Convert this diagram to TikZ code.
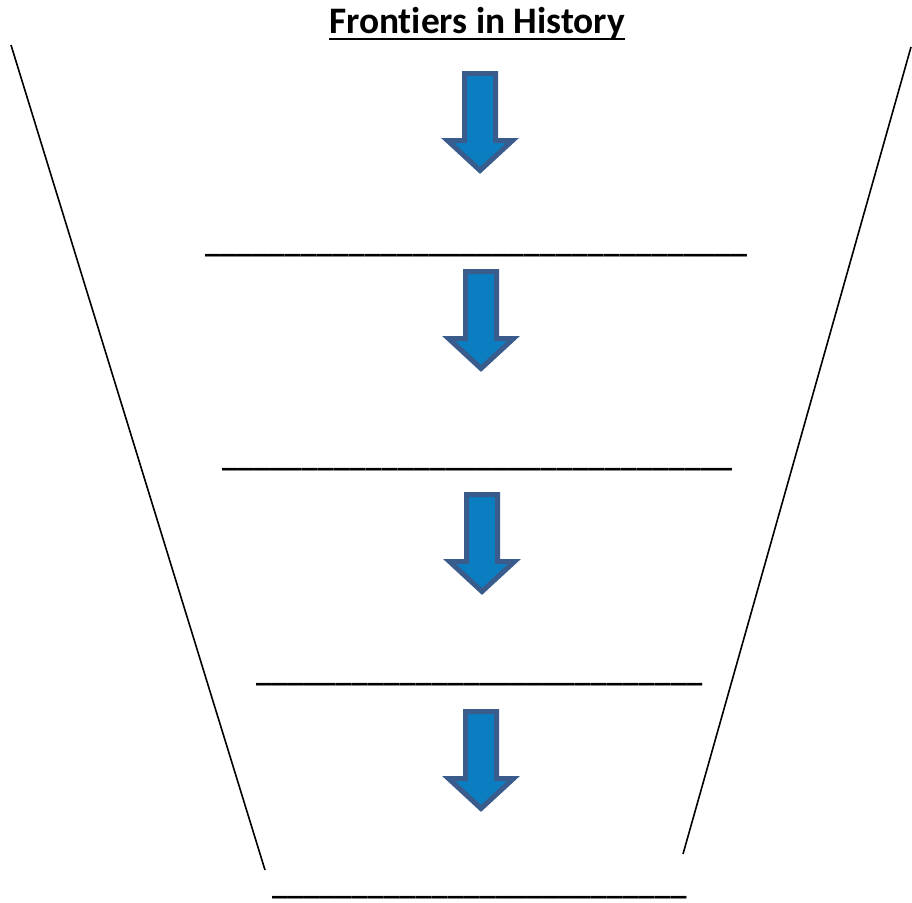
\documentclass[tikz,border=0pt]{standalone}
\usepackage{fontspec}
\setmainfont{Carlito}[Ligatures={NoCommon}]
\definecolor{arrowfill}{RGB}{10,126,192}
\definecolor{arrowedge}{RGB}{58,92,140}
\newcommand\thickul[1]{\setbox0\hbox{#1}\rlap{\rule[-6.6pt]{\wd0}{2.6pt}}\box0}
\tikzset{
  blockarrow/.style={draw=arrowedge, fill=arrowfill, line width=5pt, line join=miter},
  funnel/.style={draw=black, line width=1.6pt},
  blank/.style={font=\fontsize{32}{38}\selectfont\bfseries, inner sep=0pt, anchor=base west},
  titletext/.style={font=\fontsize{37.4}{44}\selectfont\bfseries, inner sep=0pt, anchor=base},
}
\newcommand\myblockarrow[2]{%
  \draw[blockarrow] (#1-15.5,#2+2.5) -- (#1+15.5,#2+2.5) -- (#1+15.5,#2+69.5)
    -- (#1+32.5,#2+69.5) -- (#1,#2+99.5) -- (#1-32.5,#2+69.5)
    -- (#1-15.5,#2+69.5) -- cycle;}
\begin{document}
\begin{tikzpicture}[x=1pt,y=-1pt]
  \useasboundingbox (0,0) rectangle (912,902);
  \node[titletext] (title) at (477,33.5) {\thickul{Frontiers in History}};
  % funnel sides
  \coordinate (lt) at (11,45);
  \coordinate (lb) at (265,870);
  \coordinate (rt) at (911,47);
  \coordinate (rb) at (683,854);
  \draw[funnel] (lt) -- (lb);
  \draw[funnel] (rt) -- (rb);
  % arrows
  \myblockarrow{480}{71}
  \myblockarrow{481}{269}
  \myblockarrow{482}{492}
  \myblockarrow{481}{709}
  % blanks
  \node[blank] (b1) at (205,252) {\_\_\_\_\_\_\_\_\_\_\_\_\_\_\_\_\_\_\_\_\_\_\_\_\_\_\_\_\_\_\_\_\_\_};
  \node[blank] (b2) at (222,466) {\_\_\_\_\_\_\_\_\_\_\_\_\_\_\_\_\_\_\_\_\_\_\_\_\_\_\_\_\_\_\_\_};
  \node[blank] (b3) at (256,681) {\_\_\_\_\_\_\_\_\_\_\_\_\_\_\_\_\_\_\_\_\_\_\_\_\_\_\_\_};
  \node[blank] (b4) at (272,894) {\_\_\_\_\_\_\_\_\_\_\_\_\_\_\_\_\_\_\_\_\_\_\_\_\_\_};
\end{tikzpicture}
\end{document}
